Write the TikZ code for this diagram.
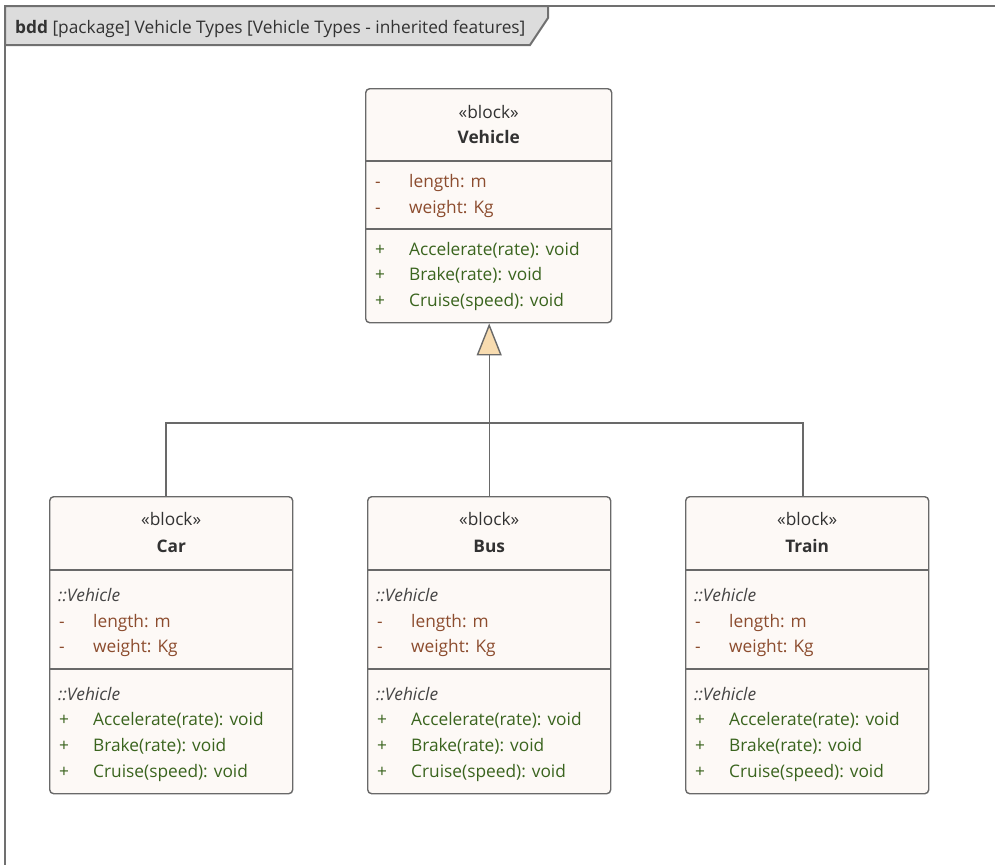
\documentclass[tikz,border=0pt]{standalone}
\usepackage{fontspec}
\setmainfont{Open Sans}
\usetikzlibrary{arrows.meta,calc}
\definecolor{framegray}{RGB}{112,112,112}
\definecolor{tabfill}{RGB}{220,220,220}
\definecolor{bordergray}{RGB}{105,105,105}
\definecolor{blockfill}{RGB}{253,249,246}
\definecolor{attrbrown}{RGB}{140,76,46}
\definecolor{opgreen}{RGB}{58,100,30}
\definecolor{hdrtext}{RGB}{50,50,50}
\definecolor{inhtext}{RGB}{68,68,68}
\definecolor{trifill}{RGB}{248,220,176}
\newcommand\fs{\fontsize{17.3}{20}\selectfont}
\newcommand\childblk[3]{%
  \node[blockbox, minimum width=243pt, minimum height=297pt] (#1) at (#2,496) {};
  \node[hdr] (#1-st) at ($(#1.north)+(0,29)$) {«block»};
  \node[hdr, font=\fs\bfseries] (#1-nm) at ($(#1.north)+(0,56)$) {#3};
  \draw[sepline] ($(#1.north west)+(0,74)$) -- ($(#1.north east)+(0,74)$);
  \node[inh] (#1-i1) at ($(#1.north west)+(9,105)$) {::Vehicle};
  \node[txt, attrbrown] (#1-m1) at ($(#1.north west)+(10,131)$) {-};
  \node[txt, attrbrown] (#1-a1) at ($(#1.north west)+(44,131)$) {length: m};
  \node[txt, attrbrown] (#1-m2) at ($(#1.north west)+(10,156)$) {-};
  \node[txt, attrbrown] (#1-a2) at ($(#1.north west)+(44,156)$) {weight: Kg};
  \draw[sepline] ($(#1.north west)+(0,173)$) -- ($(#1.north east)+(0,173)$);
  \node[inh] (#1-i2) at ($(#1.north west)+(9,204)$) {::Vehicle};
  \node[txt, opgreen] (#1-p1) at ($(#1.north west)+(10,229)$) {+};
  \node[txt, opgreen] (#1-o1) at ($(#1.north west)+(44,229)$) {Accelerate(rate): void};
  \node[txt, opgreen] (#1-p2) at ($(#1.north west)+(10,255)$) {+};
  \node[txt, opgreen] (#1-o2) at ($(#1.north west)+(44,255)$) {Brake(rate): void};
  \node[txt, opgreen] (#1-p3) at ($(#1.north west)+(10,281)$) {+};
  \node[txt, opgreen] (#1-o3) at ($(#1.north west)+(44,281)$) {Cruise(speed): void};
}
\begin{document}
\begin{tikzpicture}[x=1pt,y=-1pt,
  frameline/.style={draw=framegray, line width=2pt},
  blockbox/.style={draw=bordergray, line width=1.4pt, fill=blockfill, rounded corners=4pt, inner sep=0pt, anchor=north west},
  sepline/.style={draw=bordergray, line width=1.4pt},
  txt/.style={anchor=base west, inner sep=0pt, font=\fs},
  hdr/.style={anchor=base, inner sep=0pt, font=\fs, text=hdrtext},
  inh/.style={anchor=base west, inner sep=0pt, font=\fs\itshape, text=inhtext},
  conn/.style={draw=bordergray, line width=1.4pt},
  gen/.style={conn, -{Triangle[length=32pt, width=25pt, fill=trifill, line width=1.4pt]}}]
\useasboundingbox (0,0) rectangle (995,865);
% frame
\filldraw[frameline, fill=tabfill] (5,6) -- (548,6) -- (548,18) -- (530,45) -- (5,45) -- cycle;
\draw[frameline] (995,6) -- (5,6) -- (5,865);
\node[anchor=base west, inner sep=0pt, font=\fs, text=hdrtext] (title) at (15,33)
  {\textbf{bdd} [package] Vehicle Types [Vehicle Types - inherited features]};
% Vehicle block
\node[blockbox, minimum width=246pt, minimum height=234pt] (vehicle) at (365,88) {};
\node[hdr] (v-st) at ($(vehicle.north)+(0,30)$) {«block»};
\node[hdr, font=\fs\bfseries] (v-nm) at ($(vehicle.north)+(0,55)$) {Vehicle};
\draw[sepline] ($(vehicle.north west)+(0,73)$) -- ($(vehicle.north east)+(0,73)$);
\node[txt, attrbrown] (v-m1) at ($(vehicle.north west)+(10,99)$) {-};
\node[txt, attrbrown] (v-a1) at ($(vehicle.north west)+(44,99)$) {length: m};
\node[txt, attrbrown] (v-m2) at ($(vehicle.north west)+(10,125)$) {-};
\node[txt, attrbrown] (v-a2) at ($(vehicle.north west)+(44,125)$) {weight: Kg};
\draw[sepline] ($(vehicle.north west)+(0,141)$) -- ($(vehicle.north east)+(0,141)$);
\node[txt, opgreen] (v-p1) at ($(vehicle.north west)+(10,167)$) {+};
\node[txt, opgreen] (v-o1) at ($(vehicle.north west)+(44,167)$) {Accelerate(rate): void};
\node[txt, opgreen] (v-p2) at ($(vehicle.north west)+(10,192)$) {+};
\node[txt, opgreen] (v-o2) at ($(vehicle.north west)+(44,192)$) {Brake(rate): void};
\node[txt, opgreen] (v-p3) at ($(vehicle.north west)+(10,218)$) {+};
\node[txt, opgreen] (v-o3) at ($(vehicle.north west)+(44,218)$) {Cruise(speed): void};
% children
\childblk{car}{49}{Car}
\childblk{bus}{367}{Bus}
\childblk{train}{685}{Train}
% connectors
\coordinate (jl) at (166,423);
\coordinate (jr) at (803,423);
\draw[conn] (jl |- car.north) -- (jl) -- (jr) -- (jr |- train.north);
\draw[gen] (bus.north) -- (bus.north |- vehicle.south);
\end{tikzpicture}
\end{document}
